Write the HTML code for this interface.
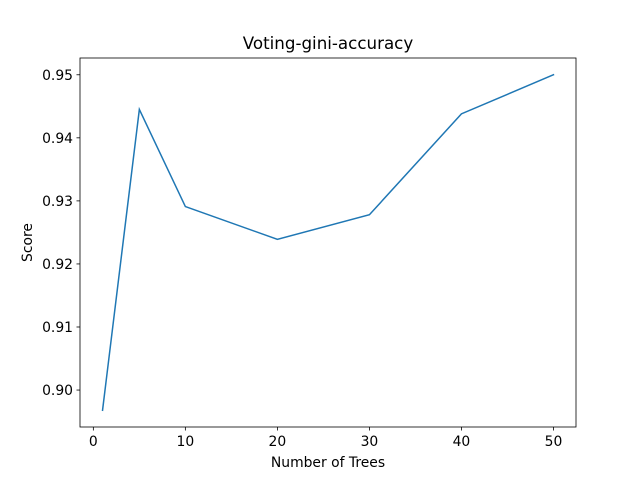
<!DOCTYPE html>
<html><head><meta charset="utf-8"><style>
body{margin:0;background:#fff;}
svg{display:block;font-family:"DejaVu Sans","Liberation Sans",sans-serif;}
</style></head><body>
<svg id="chart" width="640" height="480"></svg>
<script>
const xValues=[1,5,10,20,30,40,50];
const yValues=[0.8968,0.9445,0.9291,0.9239,0.9278,0.9438,0.95];
const xTicks=[0,10,20,30,40,50];
const yTicks=[0.90,0.91,0.92,0.93,0.94,0.95];
const svg=document.getElementById('chart');
const NS='http://www.w3.org/2000/svg';
const L=80,R=576,T=58,B=427;
const xmin=Math.min(...xValues),xmax=Math.max(...xValues);
const ymin=Math.min(...yValues),ymax=Math.max(...yValues);
const xp=(xmax-xmin)*0.05,yp=(ymax-ymin)*0.05;
const X=v=>L+(v-(xmin-xp))/((xmax+xp)-(xmin-xp))*(R-L);
const Y=v=>B-(v-(ymin-yp))/((ymax+yp)-(ymin-yp))*(B-T);
function el(t,a,txt){const e=document.createElementNS(NS,t);for(const k in a)e.setAttribute(k,a[k]);if(txt!=null)e.textContent=txt;svg.appendChild(e);return e;}
let p=el('polyline',{points:xValues.map((x,i)=>X(x)+','+Y(yValues[i])).join(' '),fill:'none',stroke:'#1f77b4','stroke-width':1.5,'stroke-linecap':'square'});


let f=el('rect',{x:L,y:T,width:R-L,height:B-T,fill:'none',stroke:'#000','stroke-width':0.8});


xTicks.forEach(t=>{const x=X(t);
 el('line',{x1:x,x2:x,y1:B,y2:B+3.5,stroke:'#000','stroke-width':0.8});
 const tx=el('text',{x:x,y:B+19,'font-size':13.9,'text-anchor':'middle'},String(t));
 
 
});
yTicks.forEach(t=>{const y=Y(t);
 el('line',{x1:L-3.5,x2:L,y1:y,y2:y,stroke:'#000','stroke-width':0.8});
 const tx=el('text',{x:L-7,y:y+5,'font-size':13.9,'text-anchor':'end'},t.toFixed(2));
 
 
});
let tt=el('text',{x:(L+R)/2,y:49,'font-size':16.7,'text-anchor':'middle'},'Voting-gini-accuracy');


let xl=el('text',{x:(L+R)/2,y:467,'font-size':13.9,'text-anchor':'middle'},'Number of Trees');


let yl=el('text',{x:32,y:(T+B)/2,'font-size':13.9,'text-anchor':'middle',transform:'rotate(-90 32 '+(T+B)/2+')'},'Score');


</script>
</body></html>
